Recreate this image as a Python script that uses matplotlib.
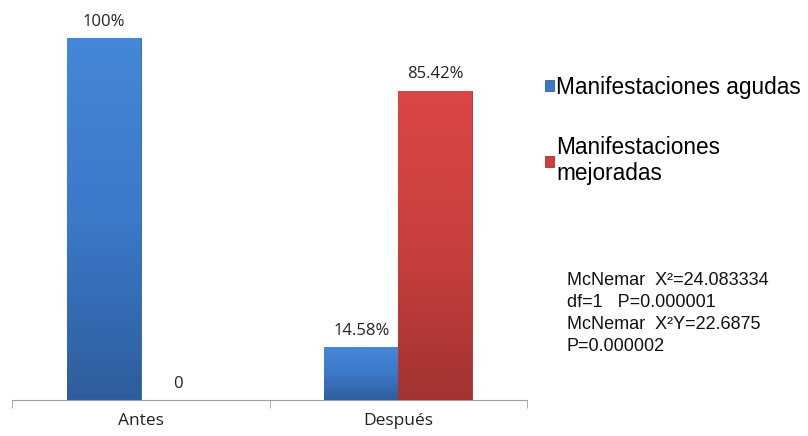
import matplotlib
matplotlib.use('Agg')
import matplotlib.pyplot as plt
from matplotlib.colors import LinearSegmentedColormap
import numpy as np

# Data
categories = ['Antes', 'Después']
agudas = [100, 14.58]
mejoradas = [0, 85.42]
agudas_labels = ['100%', '14.58%']
mejoradas_labels = ['0', '85.42%']
series_names = ['Manifestaciones agudas', 'Manifestaciones\nmejoradas']
stats_lines = ['McNemar  X²=24.083334',
               'df=1   P=0.000001',
               'McNemar  X²Y=22.6875',
               'P=0.000002']

blue = '#3b78c8'
red = '#cc403e'
blue_grad = LinearSegmentedColormap.from_list('b', ['#2f5d9c', '#3b79c9', '#4587d8'])
red_grad = LinearSegmentedColormap.from_list('r', ['#a23331', '#c9403e', '#dc4644'])

fig = plt.figure(figsize=(8.08, 4.36), dpi=100)
W, H = 808, 436
ax = fig.add_axes([12 / W, (H - 400) / H, (527 - 12) / W, (400 - 38) / H])

x = np.arange(len(categories))
w = 0.287
b1 = ax.bar(x - w / 2, agudas, w, color=blue, edgecolor='#2f5f9e', linewidth=0.6,
            label=series_names[0])
b2 = ax.bar(x + w / 2, mejoradas, w, color=red, edgecolor='#9e3330', linewidth=0.6,
            label=series_names[1])

# vertical gradient fill, like the original's shaded bars
grad = np.linspace(0, 1, 256).reshape(-1, 1)
for bars, cmap in [(b1, blue_grad), (b2, red_grad)]:
    for rect in bars:
        h = rect.get_height()
        if h <= 0:
            continue
        x0 = rect.get_x()
        im = ax.imshow(grad, cmap=cmap, origin='lower', aspect='auto',
                       extent=[x0, x0 + rect.get_width(), 0, h], zorder=2.1)
        im.set_clip_path(rect)

lab_font = dict(fontsize=12, family='Open Sans', color='#222222')
ax.bar_label(b1, labels=agudas_labels, padding=6, **lab_font)
ax.bar_label(b2, labels=mejoradas_labels, padding=6, **lab_font)

ax.set_xlim(-0.5, 1.5)
ax.set_ylim(0, 100)
for s in ['top', 'right', 'left']:
    ax.spines[s].set_visible(False)
ax.spines['bottom'].set_color('#a0a0a0')
ax.set_yticks([])
ax.set_xticks([-0.5, 0.5, 1.5], minor=True)
ax.set_xticks(x)
ax.set_xticklabels(categories, fontsize=12.5, family='Open Sans', color='#222222')
ax.tick_params(axis='x', which='major', length=0, pad=9)
ax.tick_params(axis='x', which='minor', length=6, color='#a0a0a0')

leg = fig.legend(handles=[b1, b2], loc='upper left',
                 bbox_to_anchor=(545 / W, (H - 76) / H),
                 frameon=False, handlelength=0.38, handleheight=0.38,
                 handletextpad=0.12, labelspacing=1.62, borderaxespad=0,
                 borderpad=0,
                 prop={'family': 'Liberation Sans', 'size': 16.3})

fig.text(567 / W, (H - 272) / H, '\n'.join(stats_lines), ha='left', va='top',
         family='Liberation Sans', fontsize=13, linespacing=1.38, color='#111111')

fig.savefig('out.png', dpi=100)
